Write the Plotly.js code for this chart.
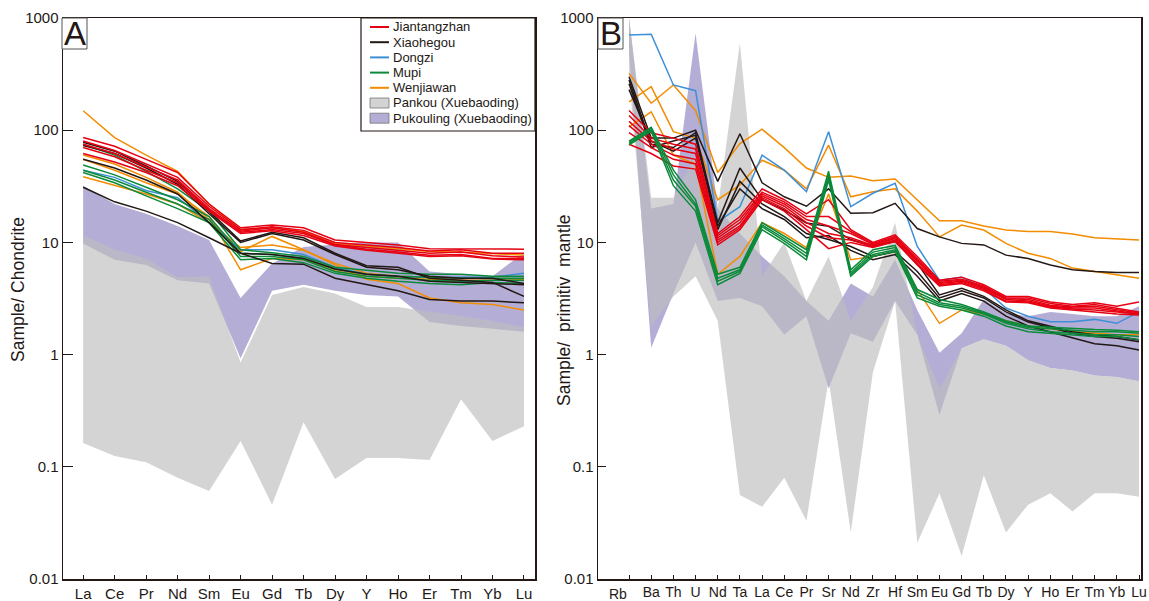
<!DOCTYPE html>
<html><head><meta charset="utf-8">
<script src="https://cdn.plot.ly/plotly-3.0.1.min.js"></script>
<style>html,body{margin:0;padding:0;background:#fff}#chart{width:1149px;height:601px}</style>
</head><body><div id="chart"></div>
<script>
// ---------- categories / tick labels ----------
const reeLabels = ['La','Ce','Pr','Nd','Sm','Eu','Gd','Tb','Dy','Y','Ho','Er','Tm','Yb','Lu'];
const spiderLabels = ['Rb','Ba','Th','U','Nd','Ta','La','Ce','Pr','Sr','Nd','Zr','Hf','Sm','Eu','Gd','Tb','Dy','Y','Ho','Er','Tm','Yb','Lu'];
const yTickVals = [0.01,0.1,1,10,100,1000];
const yTickText = ['0.01','0.1','1','10','100','1000'];

// ---------- Panel A: chondrite-normalised REE ----------
const reeJiantangzhan = [
 [86,72,55,42,22,13.5,14.3,13.5,10.5,10,9.5,8.8,8.8,8.7,8.7],
 [80,66,50,38,21,13,13.8,12.8,10,9.5,9,8.4,8.6,8,8],
 [75,62,47,36,20,12.6,13.5,12.3,9.6,9,8.5,8,8.2,7.6,7.4],
 [70,58,44,34,19.5,12.3,13,12,9.5,8.7,8.2,7.7,7.8,7.2,7.2],
 [62,52,42,32,19,12,12.7,11.5,9.3,8.5,8,7.5,7.6,7.1,7.0]
];
const reeXiaohegou = [
 [78,65,48,35,19,10.3,12.3,11,8,6.2,6,4.8,4.6,4.4,3.3],
 [73,62,46,33,18,10,12,10.5,7.8,6,5.7,5,4.8,4.8,4.3],
 [55,46,36,27,15,8,7.8,7.2,5.8,5.2,5,4.5,4.4,4.3,4.2],
 [31,23,19,15,11,8,6.5,6.4,4.8,4.2,3.7,3.1,3.0,3.0,2.9]
];
const reeDongzi = [
 [44,38,29,25,15,8.6,8.6,7.8,6,5.2,5,4.9,4.9,4.9,5.3]
];
const reeMupi = [
 [75,60,43,30,19,8.6,8.1,7.5,6,5.6,5.3,5.2,5.2,5.0,5.0],
 [49,40,31,24,17,8,7.8,7.2,5.8,5.2,5.0,4.9,4.8,4.8,4.8],
 [44,36,28,22,16,7.5,7.5,7.0,5.5,5.0,4.8,4.6,4.5,4.6,4.6],
 [42,34,26,20,15,7,7.2,6.6,5.3,4.8,4.5,4.3,4.2,4.4,4.3]
];
const reeWenjiawan = [
 [149,86,60,43,22,13,13.5,12.5,9.8,9.3,8.8,8.3,8.2,7.9,7.7],
 [60,50,38,28,16,8.3,11.3,8.6,6.3,4.7,4.3,3.2,2.9,2.8,2.5],
 [55,44,34,27,17,5.7,7.2,7.0,5.6,5.0,4.8,4.7,4.6,4.6,4.6],
 [38.5,32,27,22,15,9,9.5,8.5,6.5,5.3,5,4.9,4.8,4.8,4.7]
];
const reePankouUpper = [11.6,8.6,7.2,4.9,5.0,0.85,3.4,4.0,3.5,2.65,2.65,2.4,2.2,2.0,1.75];
const reePankouLower = [0.163,0.125,0.11,0.08,0.061,0.17,0.046,0.25,0.078,0.12,0.12,0.115,0.40,0.17,0.23];
const reePukoulingUpper = [32,22,18,14,10.5,3.2,6.5,9.1,9.6,10,10,5.5,5.2,5.0,8.1];
const reePukoulingLower = [9.8,7.0,6.3,4.6,4.3,0.93,3.7,4.2,3.7,3.4,3.3,1.95,1.8,1.7,1.6];

// ---------- Panel B: primitive-mantle-normalised spider ----------
const spJiantangzhan = [
 [150,95,85,75,12,17,30,24,18,24,13,10,11.7,7.5,4.6,4.9,4.2,3.3,3.3,2.95,2.8,2.9,2.7,2.95],
 [135,85,75,68,11.5,16,28,23,17,17,12.5,9.8,11.3,7.2,4.5,4.7,4.1,3.2,3.2,2.85,2.7,2.8,2.6,2.4],
 [120,80,68,62,11,15,27,22,16,14,12,9.6,11,7,4.4,4.6,4.0,3.15,3.1,2.75,2.65,2.7,2.5,2.35],
 [110,75,60,55,10.5,14,26,21,15,12,11,9.4,10.8,6.8,4.3,4.5,3.9,3.1,3.0,2.7,2.6,2.6,2.45,2.3],
 [95,70,55,50,10,13.5,25,20,14,11,10.5,9.2,10.5,6.5,4.2,4.4,3.8,3.0,2.95,2.65,2.55,2.5,2.4,2.3],
 [75,62,48,45,9.5,13,24,19,13,8.8,10,9.0,10.2,6.3,4.1,4.3,3.7,2.95,2.9,2.6,2.5,2.4,2.3,2.25]
];
const spXiaohegou = [
 [300,85,85,100,35,93,34,25.5,21,30,18.2,18.4,22.3,13.3,11.2,9.8,9.5,7.7,7.2,6.3,5.7,5.5,5.4,5.4],
 [280,75,70,95,15,46,24,19.4,14.9,13.9,10.6,9.2,10.2,6.5,3.4,3.9,3.3,2.5,2.0,1.8,1.6,1.5,1.45,1.35],
 [260,70,80,90,13,35,22,17,12,10.6,9.2,7.5,8.3,5.5,3.2,3.7,3.2,2.4,1.95,1.75,1.55,1.45,1.4,1.3],
 [230,80,65,85,14,30,20,16,11,11.5,8.5,7,7.8,5,3.0,3.5,3.0,2.2,1.8,1.6,1.4,1.25,1.2,1.1]
];
const spDongzi = [
 [705,716,253,225,15.3,20.8,60,44,28.3,97,20.8,27.4,33.6,9.2,4.6,4.9,3.9,2.6,2.2,1.96,1.96,2.06,1.9,2.4]
];
const spMupi = [
 [80,106,44,24,5.2,6.0,15,11.3,8.6,43,5.7,8.6,9.4,3.8,3.1,2.8,2.4,2.0,1.8,1.75,1.7,1.67,1.65,1.6],
 [78,104,40,22,4.8,5.7,14.3,10.8,8.0,40,5.4,8.2,9.0,3.6,2.9,2.7,2.35,1.95,1.75,1.7,1.65,1.6,1.6,1.55],
 [76,100,36,21,4.5,5.5,13.8,10.3,7.5,38,5.2,7.8,8.6,3.4,2.8,2.6,2.3,1.9,1.7,1.6,1.55,1.5,1.5,1.45],
 [74,98,32,19,4.2,5.3,13,9.8,7.0,36,5.0,7.5,8.3,3.2,2.7,2.5,2.2,1.8,1.6,1.55,1.5,1.45,1.45,1.36]
];
const spWenjiawan = [
 [321,174,253,150,42,76,102,70,46,38,39,35.5,36.7,24,15.6,15.6,14,12.9,12.5,12.5,11.9,11,10.8,10.5],
 [179,244,97,85,24,32.5,54,44,30,73.5,25.5,28.3,30,19,11.2,14.3,12.9,9.8,8.0,7.2,5.9,5.5,5.1,4.8],
 [107,146,60,50,5.2,7.5,15,12,9,27,7,7.5,8.3,3.8,1.9,2.5,2.3,2.0,1.8,1.7,1.6,1.55,1.5,1.5]
];
const spPankouUpper = [1000,25,25,60,20,600,5,10,3,7.5,2,4,15,1.5,0.5,1.14,1.37,1.2,0.89,0.76,0.72,0.65,0.63,0.58];
const spPankouLower = [300,1.8,3.3,5,2,0.056,0.044,0.08,0.033,0.6,0.026,0.7,3,0.021,0.058,0.016,0.084,0.026,0.046,0.058,0.04,0.058,0.058,0.054];
const spPukoulingUpper = [1000,20,22,730,20,12,7.5,5,3,2,4.3,3.3,7,2.5,1.04,1.55,3.1,2.35,2.2,2.4,2.3,2.2,2.2,2.7];
const spPukoulingLower = [500,1.15,3.5,10,3,3.2,2.7,1.5,2.2,0.5,1.55,1.3,3,1.5,0.29,1.14,1.37,1.2,0.89,0.76,0.72,0.65,0.63,0.58];

// ---------- styling ----------
const COLORS = {Jiantangzhan:'#e60012', Xiaohegou:'#231815', Dongzi:'#3d8fd6', Mupi:'#0b8a3a', Wenjiawan:'#f28c00'};
const PANKOU_FILL = 'rgba(190,190,190,0.66)';
const PUKOULING_FILL = '#b4add6';
const FONT = '"Liberation Sans Narrow","Arial Narrow","Liberation Sans",Arial,sans-serif';
const INK = '#231815';
const W = 1149, H = 601;
const px = v => v / W, py = v => 1 - v / H;

const idx = n => Array.from({length:n}, (_, i) => i);
const traces = [];
function band(upper, lower, color, xa, ya) {
  const xs = idx(upper.length);
  traces.push({x: xs.concat(xs.slice().reverse()), y: upper.concat(lower.slice().reverse()),
    type:'scatter', mode:'lines', fill:'toself', fillcolor:color, line:{width:0}, hoverinfo:'skip',
    xaxis:xa, yaxis:ya});
}
function lines(group, color, xa, ya) {
  group.forEach(v => traces.push({x: idx(v.length), y: v, type:'scatter', mode:'lines',
    line:{color:color, width:1.5}, xaxis:xa, yaxis:ya, hoverinfo:'skip'}));
}
// Panel A
band(reePukoulingUpper, reePukoulingLower, PUKOULING_FILL, 'x', 'y');
band(reePankouUpper, reePankouLower, PANKOU_FILL, 'x', 'y');
lines(reeWenjiawan, COLORS.Wenjiawan, 'x', 'y');
lines(reeDongzi, COLORS.Dongzi, 'x', 'y');
lines(reeMupi, COLORS.Mupi, 'x', 'y');
lines(reeXiaohegou, COLORS.Xiaohegou, 'x', 'y');
lines(reeJiantangzhan, COLORS.Jiantangzhan, 'x', 'y');
// Panel B
band(spPukoulingUpper, spPukoulingLower, PUKOULING_FILL, 'x2', 'y2');
band(spPankouUpper, spPankouLower, PANKOU_FILL, 'x2', 'y2');
lines(spWenjiawan, COLORS.Wenjiawan, 'x2', 'y2');
lines(spDongzi, COLORS.Dongzi, 'x2', 'y2');
lines(spXiaohegou, COLORS.Xiaohegou, 'x2', 'y2');
lines(spJiantangzhan, COLORS.Jiantangzhan, 'x2', 'y2');
lines(spMupi, COLORS.Mupi, 'x2', 'y2');

const axCommon = {showline:true, mirror:true, linecolor:INK, linewidth:1.5, showgrid:false, zeroline:false,
  ticks:'inside', tickcolor:INK, tickangle:0, tickfont:{family:FONT, size:15, color:INK}};
const yDomain = [1 - 579/H, 1 - 18/H];
const layout = {
  width:W, height:H, margin:{l:0,r:0,t:0,b:0}, paper_bgcolor:'#fff', plot_bgcolor:'rgba(0,0,0,0)',
  showlegend:false,
  xaxis: Object.assign({}, axCommon, {domain:[px(63), px(535)], range:[-0.64, 14.35],
    tickmode:'array', tickvals:idx(reeLabels.length), ticktext:reeLabels, ticklen:4}),
  yaxis: Object.assign({}, axCommon, {domain:yDomain, type:'log', range:[-2,3], anchor:'x',
    tickmode:'array', tickvals:yTickVals, ticktext:yTickText, ticklen:10}),
  xaxis2: Object.assign({}, axCommon, {domain:[px(598), px(1141)], range:[-1.4, 23.09], anchor:'y2',
    tickmode:'array', tickvals:idx(spiderLabels.length),
    ticktext:spiderLabels.map((t,i)=> i===0 ? '' : t), ticklen:4, tickfont:{family:FONT, size:14, color:INK}}),
  yaxis2: Object.assign({}, axCommon, {domain:yDomain, type:'log', range:[-2,3], anchor:'x2',
    tickmode:'array', tickvals:yTickVals, ticktext:yTickText, ticklen:8}),
  shapes:[], annotations:[]
};

// panel letters
[['A',62,87],['B',598,623]].forEach(([t,x0,x1]) => {
  layout.shapes.push({type:'rect', xref:'paper', yref:'paper', x0:px(x0), x1:px(x1), y0:py(49), y1:py(18),
    line:{color:'#555', width:1}, fillcolor:'#fff'});
  layout.annotations.push({text:t, xref:'paper', yref:'paper', x:px((x0+x1)/2), y:py(34), xanchor:'center', yanchor:'middle',
    showarrow:false, font:{family:'"Liberation Sans",Arial,sans-serif', size:33, color:INK}});
});
// Rb label (offset left of its tick as in the original)
layout.annotations.push({text:spiderLabels[0], xref:'paper', yref:'paper', x:px(618), y:py(594), xanchor:'center', yanchor:'middle',
  showarrow:false, font:{family:FONT, size:14, color:INK}});
// axis titles
layout.annotations.push({text:'Sample/ Chondrite', xref:'paper', yref:'paper', x:px(18), y:py(290), textangle:-90,
  showarrow:false, xanchor:'center', yanchor:'middle', font:{family:FONT, size:17.5, color:INK}});
layout.annotations.push({text:'Sample/\u00a0 primitiv\u00a0 mantle', xref:'paper', yref:'paper', x:px(564), y:py(310), textangle:-90,
  showarrow:false, xanchor:'center', yanchor:'middle', font:{family:FONT, size:17.5, color:INK}});

// legend (drawn inside panel A)
layout.shapes.push({type:'rect', xref:'paper', yref:'paper', x0:px(361), x1:px(535), y0:py(131), y1:py(18),
  line:{color:INK, width:1.2}, fillcolor:'#fff'});
const legendItems = [
  ['Jiantangzhan', 'line', COLORS.Jiantangzhan],
  ['Xiaohegou', 'line', COLORS.Xiaohegou],
  ['Dongzi', 'line', COLORS.Dongzi],
  ['Mupi', 'line', COLORS.Mupi],
  ['Wenjiawan', 'line', COLORS.Wenjiawan],
  ['Pankou (Xuebaoding)', 'box', '#d3d3d3'],
  ['Pukouling (Xuebaoding)', 'box', PUKOULING_FILL]
];
legendItems.forEach(([name, kind, color], i) => {
  const yy = 27 + i * 15.2;
  if (kind === 'line') {
    layout.shapes.push({type:'line', xref:'paper', yref:'paper', x0:px(370), x1:px(389), y0:py(yy), y1:py(yy),
      line:{color:color, width:2}});
  } else {
    layout.shapes.push({type:'rect', xref:'paper', yref:'paper', x0:px(370), x1:px(389), y0:py(yy+5), y1:py(yy-5),
      line:{color:'#777', width:0.8}, fillcolor:color});
  }
  layout.annotations.push({text:name, xref:'paper', yref:'paper', x:px(391), y:py(yy), xanchor:'left', yanchor:'middle',
    showarrow:false, font:{family:FONT, size:13, color:INK}});
});

Plotly.newPlot('chart', traces, layout, {staticPlot:true, displayModeBar:false});
</script>
</body></html>
